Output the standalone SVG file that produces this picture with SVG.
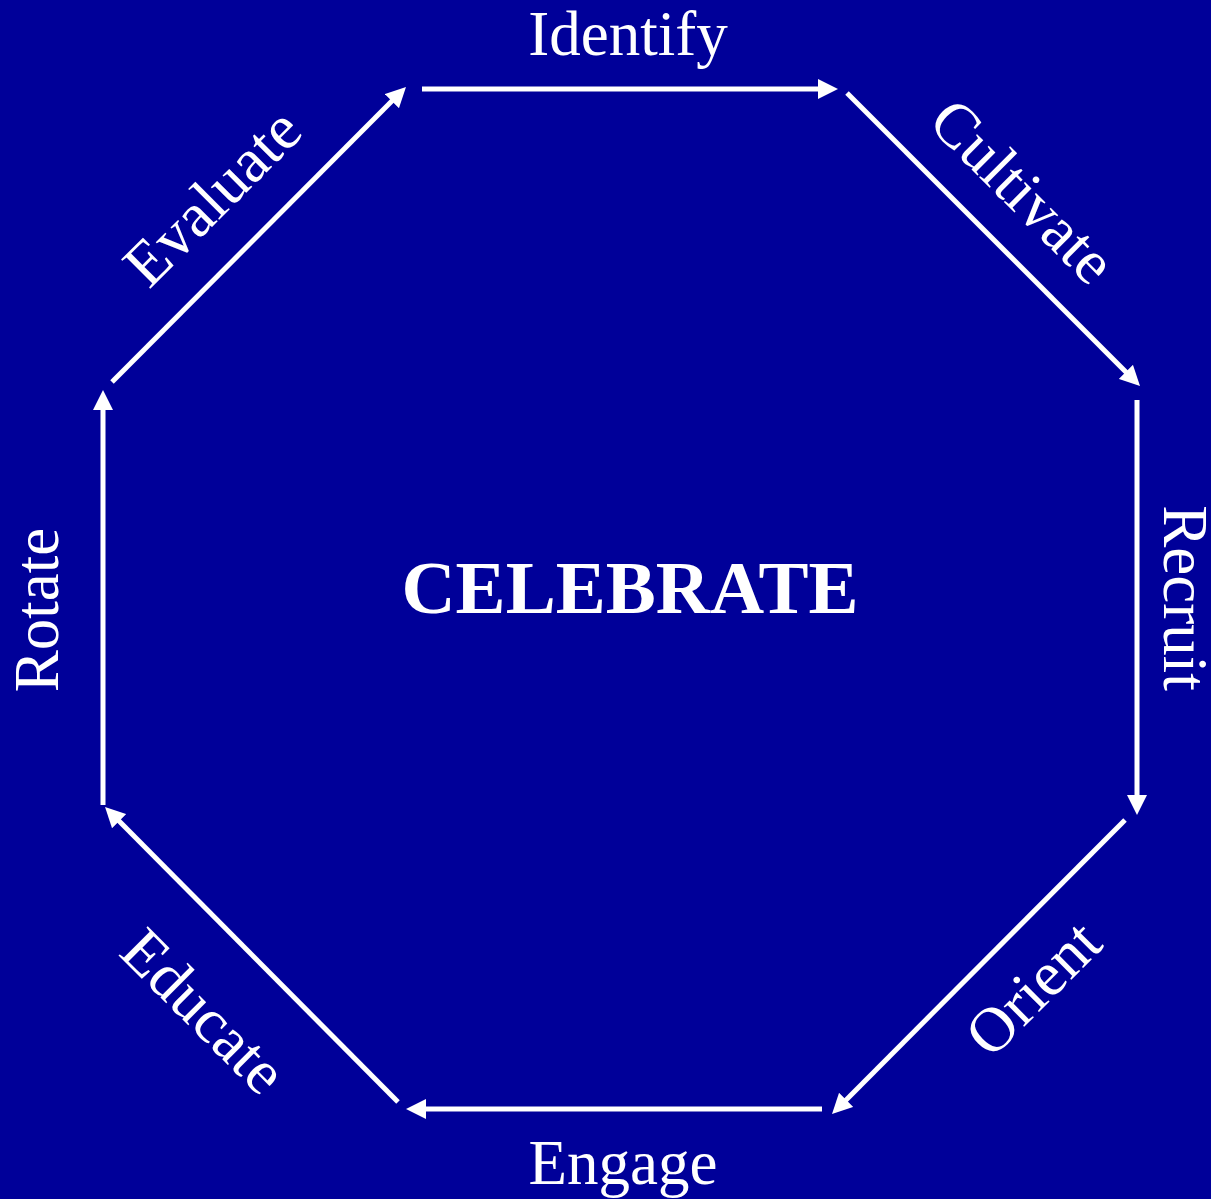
<svg xmlns="http://www.w3.org/2000/svg" width="1211" height="1199" viewBox="0 0 1211 1199">
<defs>
<marker id="ah" markerUnits="userSpaceOnUse" markerWidth="20" markerHeight="20" refX="5" refY="10" orient="auto" viewBox="0 0 20 20">
<path d="M0,0 L20,10 L0,20 z" fill="#ffffff"/>
</marker>
<style>
.lbl{font-family:"Liberation Serif","Times New Roman",serif;font-size:63px;fill:#ffffff;text-anchor:middle}
.ctr{font-family:"Liberation Serif","Times New Roman",serif;font-size:75px;font-weight:bold;fill:#ffffff;text-anchor:middle}
.edge{stroke:#ffffff;stroke-width:5;fill:none;marker-end:url(#ah)}
</style>
</defs>
<rect x="0" y="0" width="1211" height="1199" fill="#000099"/>
<g id="connectors">
<line class="edge" x1="422" y1="89" x2="823" y2="89"/>
<line class="edge" x1="847" y1="93" x2="1129.4" y2="375.4"/>
<line class="edge" x1="1137" y1="400" x2="1137" y2="800"/>
<line class="edge" x1="1125" y1="820" x2="842.6" y2="1103.4"/>
<line class="edge" x1="822" y1="1109" x2="421" y2="1109"/>
<line class="edge" x1="398" y1="1102" x2="115.6" y2="817.6"/>
<line class="edge" x1="103" y1="805" x2="103" y2="405"/>
<line class="edge" x1="112" y1="382" x2="395.4" y2="97.6"/>
</g>
<g id="identify"><text class="lbl" x="628" y="55">Identify</text></g>
<g id="cultivate"><text class="lbl" transform="translate(1008,206) rotate(45)" x="0" y="0">Cultivate</text></g>
<g id="recruit"><text class="lbl" transform="translate(1164,598) rotate(90)" x="0" y="0">Recruit</text></g>
<g id="orient"><text class="lbl" transform="translate(1048,1003) rotate(-45)" x="0" y="0">Orient</text></g>
<g id="engage"><text class="lbl" x="623" y="1184">Engage</text></g>
<g id="educate"><text class="lbl" transform="translate(189,1026) rotate(45)" x="0" y="0">Educate</text></g>
<g id="rotate"><text class="lbl" transform="translate(58,610) rotate(-90)" x="0" y="0">Rotate</text></g>
<g id="evaluate"><text class="lbl" transform="translate(227,212) rotate(-45)" x="0" y="0">Evaluate</text></g>
<g id="celebrate"><text class="ctr" x="630" y="613">CELEBRATE</text></g>
</svg>
